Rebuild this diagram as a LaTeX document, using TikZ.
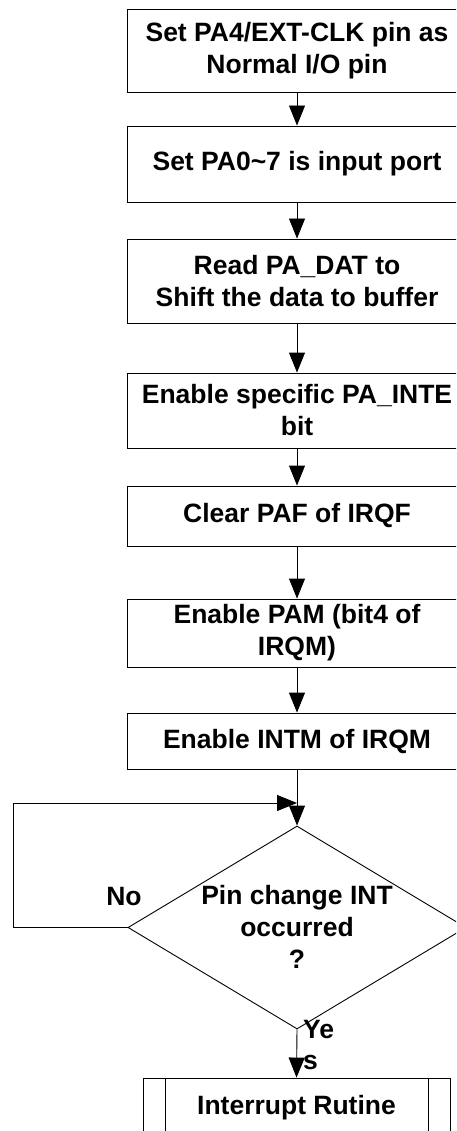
\documentclass[tikz,border=0pt]{standalone}
\usepackage{fontspec}
\setmainfont{Liberation Sans}
\usetikzlibrary{arrows.meta,shapes.geometric}
\begin{document}
\begin{tikzpicture}[x=1pt,y=-1pt,
  lbl/.style={font=\bfseries\fontsize{26.5}{32}\selectfont, align=center, inner sep=0pt},
  box/.style={lbl, draw, line width=0.9pt, minimum width=340pt},
  arr/.style={-{Triangle[length=20pt,width=16pt]}, line width=0.9pt}]
\clip (0,0) rectangle (456,1131);
\fill[white] (0,0) rectangle (456,1131);
\node[box, minimum height=83pt] (b1) at (297,50.5) {Set PA4/EXT-CLK pin as\\Normal I/O pin};
\node[box, minimum height=76pt] (b2) at (297,164) {Set PA0\textasciitilde 7 is input port};
\node[box, minimum height=84pt] (b3) at (297,281) {Read PA\_DAT to\\Shift the data to buffer};
\node[box, minimum height=75pt] (b4) at (297,410.5) {Enable specific PA\_INTE\\bit};
\node[box, minimum height=60pt] (b5) at (297,516) {Clear PAF of IRQF};
\node[box, minimum height=68pt] (b6) at (297,633) {Enable PAM (bit4 of\\IRQM)};
\node[box, minimum height=56pt] (b7) at (297,741) {Enable INTM of IRQM};
\node[draw, shape=diamond, line width=0.9pt, minimum width=338pt, minimum height=203pt, inner sep=0pt] (d) at (297,927.5) {};
\node[lbl] (dt) at (297,927) {Pin change INT\\occurred\\?};
\node[lbl, draw, line width=0.9pt, minimum width=307pt, minimum height=60pt] (r) at (296.5,1108) {Interrupt Rutine};
\draw[line width=0.9pt] ([xshift=23pt]r.north west) -- ([xshift=23pt]r.south west);
\draw[line width=0.9pt] ([xshift=-22pt]r.north east) -- ([xshift=-22pt]r.south east);
\node[lbl] (no) at (124,897) {No};
\node[lbl, align=left, anchor=west] (yes) at (303,1045) {Ye\\s};
\coordinate (cl) at (13,803);
\coordinate (j) at (297,803);
\draw[arr] (b1) -- (b2);
\draw[arr] (b2) -- (b3);
\draw[arr] (b3) -- (b4);
\draw[arr] (b4) -- (b5);
\draw[arr] (b5) -- (b6);
\draw[arr] (b6) -- (b7);
\draw[arr] (b7) -- (d);
\draw[arr] (d.west) -| (cl) -- (j);
\draw[arr] (d.south) -- (r.north);
\end{tikzpicture}
\end{document}
